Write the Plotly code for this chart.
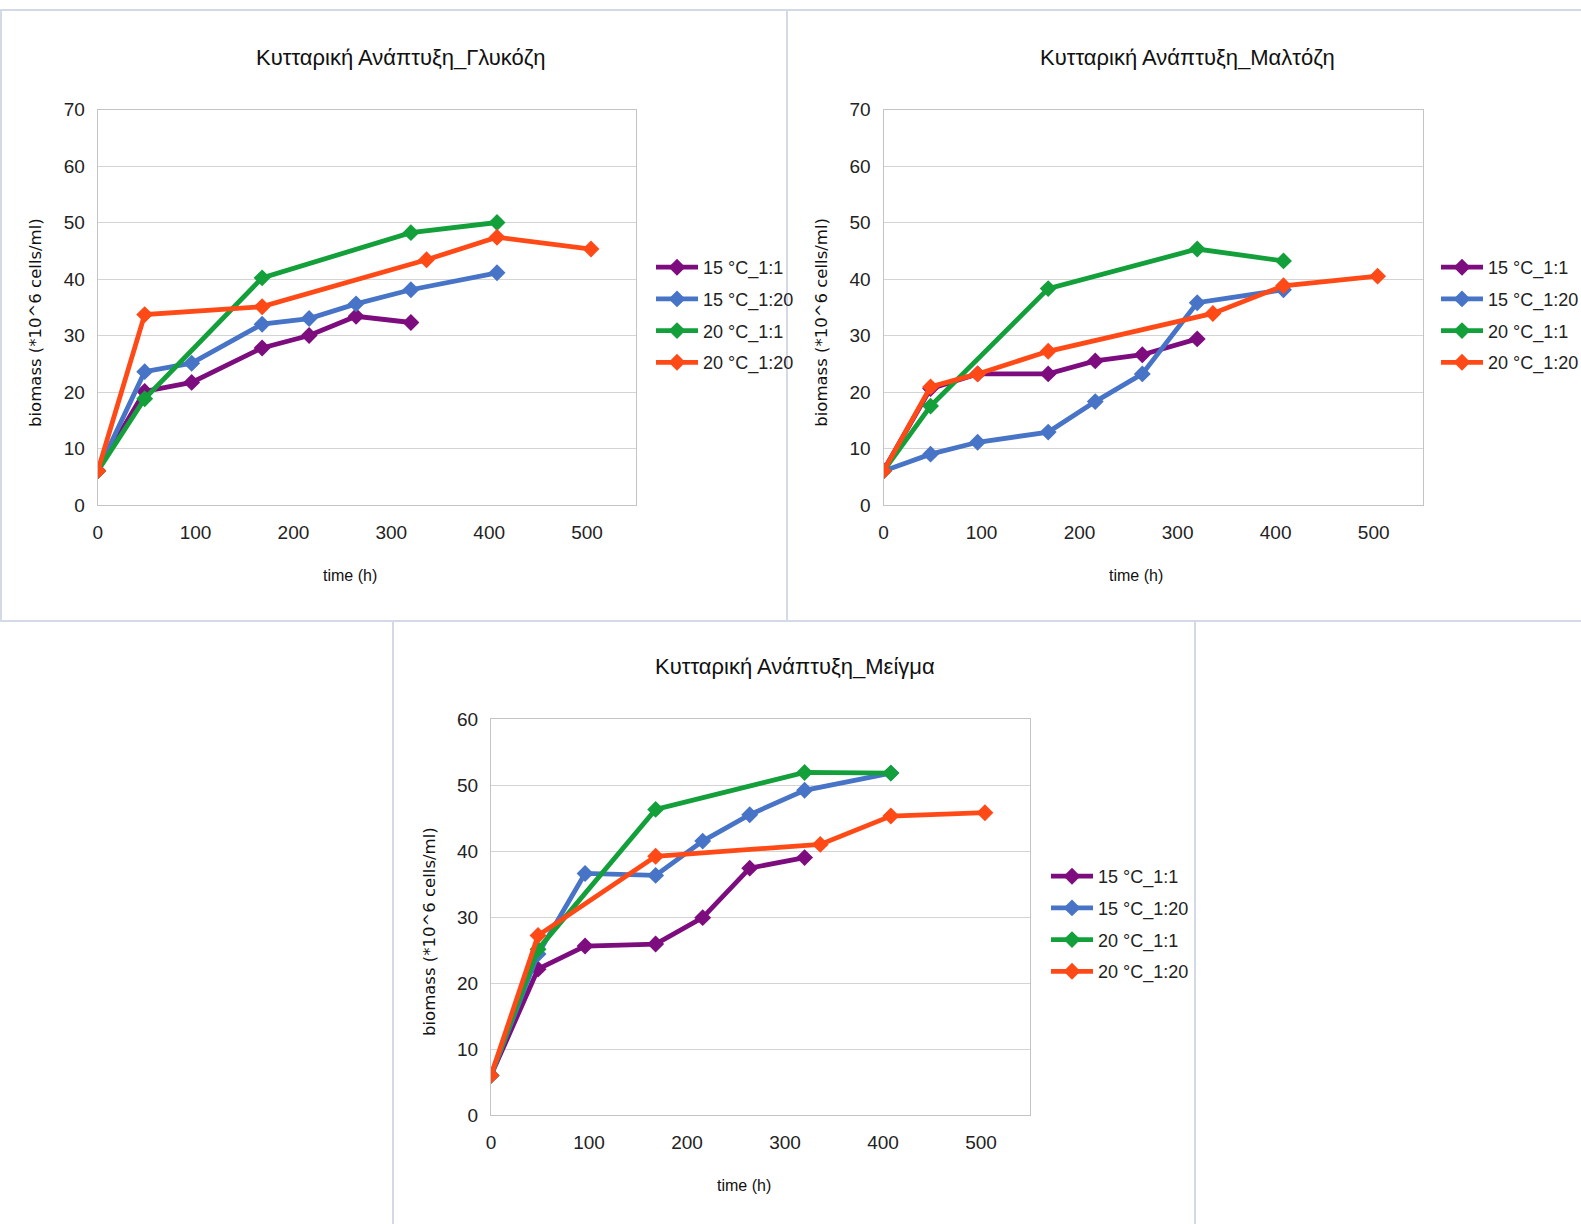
import plotly.graph_objects as go

# Sampling times (h)
t_gluc_p = [0, 48, 96, 168, 216, 264, 320]
t_gluc_b = [0, 48, 96, 168, 216, 264, 320, 408]
t_gluc_g = [0, 48, 168, 320, 408]
t_gluc_o = [0, 48, 168, 336, 408, 504]

# Glucose
gluc_15_11 = [6.1, 20.1, 21.7, 27.8, 30.0, 33.4, 32.3]
gluc_15_120 = [6.0, 23.6, 25.1, 32.0, 33.0, 35.6, 38.1, 41.1]
gluc_20_11 = [6.0, 18.8, 40.2, 48.2, 50.0]
gluc_20_120 = [6.0, 33.7, 35.1, 43.4, 47.4, 45.3]

# Maltose
t_malt_p = [0, 48, 96, 168, 216, 264, 320]
t_malt_b = [0, 48, 96, 168, 216, 264, 320, 408]
t_malt_g = [0, 48, 168, 320, 408]
t_malt_o = [0, 48, 96, 168, 336, 408, 504]
malt_15_11 = [6.1, 20.6, 23.2, 23.2, 25.5, 26.6, 29.4]
malt_15_120 = [6.0, 9.0, 11.1, 12.9, 18.3, 23.2, 35.8, 38.1]
malt_20_11 = [6.0, 17.5, 38.3, 45.3, 43.2]
malt_20_120 = [6.0, 20.9, 23.2, 27.2, 33.9, 38.8, 40.5]

# Mixture
t_mix_p = [0, 48, 96, 168, 216, 264, 320]
t_mix_b = [0, 48, 96, 168, 216, 264, 320, 408]
t_mix_g = [0, 48, 168, 320, 408]
t_mix_o = [0, 48, 168, 336, 408, 504]
mix_15_11 = [6.0, 22.1, 25.6, 25.9, 29.9, 37.4, 39.0]
mix_15_120 = [6.0, 24.4, 36.6, 36.3, 41.5, 45.5, 49.2, 51.8]
mix_20_11 = [6.0, 25.1, 46.3, 51.9, 51.8]
mix_20_120 = [6.0, 27.2, 39.2, 41.0, 45.3, 45.8]

series_names = ["15 °C_1:1", "15 °C_1:20", "20 °C_1:1", "20 °C_1:20"]
colors = ["#7D0C7E", "#4774C6", "#13A03B", "#FF4A17"]

titles = ["Κυτταρική Ανάπτυξη_Γλυκόζη", "Κυτταρική Ανάπτυξη_Μαλτόζη",
          "Κυτταρική Ανάπτυξη_Μείγμα"]
x_title = "time (h)"
y_title = "biomass (*10^6 cells/ml)"
x_ticks = [0, 100, 200, 300, 400, 500]

W, H = 1581, 1224
TXT = "Liberation Sans, Arial, sans-serif"

panels = [
    dict(ts=[t_gluc_p, t_gluc_b, t_gluc_g, t_gluc_o],
         ys=[gluc_15_11, gluc_15_120, gluc_20_11, gluc_20_120],
         px=(97.7, 636), py=(109.5, 505), ymax=70, legend_x=651, legend_y=249),
    dict(ts=[t_malt_p, t_malt_b, t_malt_g, t_malt_o],
         ys=[malt_15_11, malt_15_120, malt_20_11, malt_20_120],
         px=(883.5, 1422.7), py=(109.5, 505), ymax=70, legend_x=1436, legend_y=249),
    dict(ts=[t_mix_p, t_mix_b, t_mix_g, t_mix_o],
         ys=[mix_15_11, mix_15_120, mix_20_11, mix_20_120],
         px=(491, 1030), py=(719, 1115), ymax=60, legend_x=1046, legend_y=858),
]

fig = go.Figure()
layout = dict(
    template="none",
    width=W, height=H, margin=dict(l=0, r=0, t=0, b=0, autoexpand=False),
    paper_bgcolor="white", plot_bgcolor="white", showlegend=True,
    annotations=[], shapes=[],
)

for i, p in enumerate(panels):
    k = "" if i == 0 else str(i + 1)
    xa, ya = "x" + k, "y" + k
    lg = "legend" + k
    for j in range(4):
        fig.add_trace(go.Scatter(
            x=p["ts"][j], y=p["ys"][j], mode="lines+markers",
            name=series_names[j], legend=lg, legendgroup=f"{i}_{j}",
            line=dict(color=colors[j], width=4.8),
            marker=dict(symbol="diamond", size=13, color=colors[j]),
            xaxis=xa, yaxis=ya,
        ))
    x0, x1 = p["px"][0] / W, p["px"][1] / W
    y1, y0 = 1 - p["py"][0] / H, 1 - p["py"][1] / H
    layout["xaxis" + k] = dict(
        domain=[x0, x1], range=[0, 550], anchor=ya, tickvals=x_ticks,
        automargin=False, showgrid=False, zeroline=False,
        showline=True, mirror=True, linecolor="#c4c4c4", linewidth=1.2,
        ticks="outside", ticklen=10, tickcolor="rgba(0,0,0,0)",
        tickfont=dict(family=TXT, size=19, color="#222"),
    )
    layout["yaxis" + k] = dict(
        domain=[y0, y1], range=[0, p["ymax"]], anchor=xa, dtick=10,
        automargin=False, showgrid=True, gridcolor="#d4d4d4", gridwidth=1.2,
        zeroline=False, showline=True, mirror=True, linecolor="#c4c4c4", linewidth=1.2,
        ticks="outside", ticklen=8, tickcolor="rgba(0,0,0,0)",
        tickfont=dict(family=TXT, size=19, color="#222"),
    )
    layout[lg] = dict(
        xref="container", yref="container",
        x=p["legend_x"] / W, y=1 - p["legend_y"] / H, xanchor="left", yanchor="top",
        bgcolor="rgba(0,0,0,0)", borderwidth=0, tracegroupgap=5.3, itemwidth=42,
        font=dict(family=TXT, size=18, color="#222"),
    )
    cx = (p["px"][0] + p["px"][1]) / 2
    # Chart title
    layout["annotations"].append(dict(
        text=titles[i], xref="paper", yref="paper",
        x=(cx + 34) / W, y=1 - (p["py"][0] - 52) / H,
        xanchor="center", yanchor="middle", showarrow=False,
        font=dict(family=TXT, size=22, color="#111"),
    ))
    # Axis titles
    layout["annotations"].append(dict(
        text=x_title, xref="paper", yref="paper",
        x=(cx - 17) / W, y=1 - (p["py"][1] + 70) / H,
        xanchor="center", yanchor="middle", showarrow=False,
        font=dict(family=TXT, size=16, color="#111"),
    ))
    layout["annotations"].append(dict(
        text=y_title, xref="paper", yref="paper",
        x=(p["px"][0] - 62) / W, y=1 - ((p["py"][0] + p["py"][1]) / 2 + 15) / H,
        xanchor="center", yanchor="middle", showarrow=False, textangle=-90,
        font=dict(family="DejaVu Sans, Verdana, sans-serif", size=16.5, color="#111"),
    ))

# Frames around each chart
border = dict(color="#d3d9e6", width=2)
for (xa0, ya0, xa1, ya1) in [(1, 10, 787, 621), (787, 10, 1582, 621), (393, 621, 1195, 1226)]:
    layout["shapes"].append(dict(
        type="rect", xref="paper", yref="paper",
        x0=xa0 / W, x1=xa1 / W, y0=1 - ya1 / H, y1=1 - ya0 / H,
        line=border, layer="below",
    ))

fig.update_layout(**layout)
fig.write_html(
    "out.html",
    post_script="document.body.style.margin='0';document.body.style.overflow='hidden';",
)
